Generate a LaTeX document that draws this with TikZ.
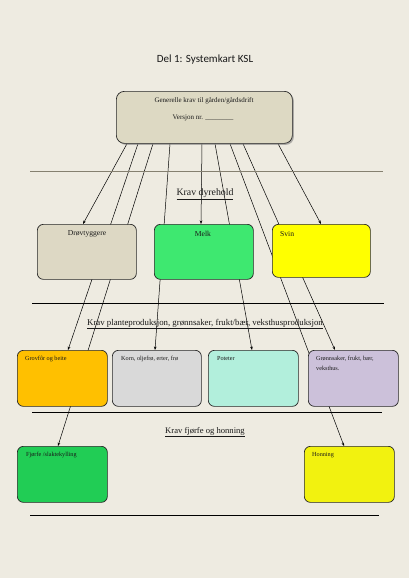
\documentclass[tikz,border=0pt]{standalone}
\usepackage{fontspec}
\setmainfont{Liberation Serif}
\newfontfamily\titlefont{Carlito}
\usetikzlibrary{calc,arrows.meta,shadows}
\pgfdeclarelayer{back}
\pgfdeclarelayer{paper}
\pgfsetlayers{paper,back,main}
\definecolor{bgc}{HTML}{EEEBE1}
\definecolor{topfill}{HTML}{DDD9C3}
\definecolor{drovfill}{HTML}{DDD8C4}
\definecolor{melkfill}{HTML}{3EE870}
\definecolor{svinfill}{HTML}{FFFF00}
\definecolor{grovfill}{HTML}{FFC000}
\definecolor{kornfill}{HTML}{D9D9D9}
\definecolor{potfill}{HTML}{B2EFDC}
\definecolor{gronnfill}{HTML}{CCC1DA}
\definecolor{fjorfill}{HTML}{21CD55}
\definecolor{honfill}{HTML}{F2F20F}
\definecolor{seponegray}{HTML}{858070}
\begin{document}
\begin{tikzpicture}[x=1pt,y=-1pt,
  box/.style={draw=black!85, line width=0.7pt, rounded corners=6pt, anchor=north west, inner sep=0pt, minimum width=#1},
  box/.default=90pt,
  lbl/.style={font=\fontsize{6.2}{7}\selectfont, text=black!90, inner sep=0pt, anchor=north west},
  mlbl/.style={font=\fontsize{7.6}{8.5}\selectfont, text=black!90, inner sep=0pt},
  head/.style={font=\fontsize{9.8}{11}\selectfont, text=black!90, inner sep=0pt},
  conn/.style={draw=black, line width=0.5pt, -{Stealth[length=3.5pt,width=2.6pt]}},
  sep/.style={line width=0.7pt, draw=black}]
\useasboundingbox (0,0) rectangle (409,578);
\begin{pgfonlayer}{paper}
\fill[bgc] (0,0) rectangle (409,578);
\end{pgfonlayer}

% title
\node[font=\titlefont\fontsize{11}{13}\selectfont, text=black!90, inner sep=0pt] (title) at (205,60) {Del 1: Systemkart KSL};

% top box
\node[box=176pt, minimum height=52pt, fill=topfill, rounded corners=8pt,
      drop shadow={shadow xshift=1.5pt, shadow yshift=-1.5pt, opacity=0.6}] (top) at (116,91) {};
\node[mlbl, font=\fontsize{7}{8}\selectfont] (gen) at (204,101) {Generelle krav til gården/gårdsdrift};
\node[mlbl, font=\fontsize{7}{8}\selectfont] (ver) at (203,118) {Versjon nr. \_\_\_\_\_\_\_\_};

% separators
\draw[line width=1pt, draw=seponegray] (30,171) -- (383,171);
\draw[sep] (32,303) -- (384,303);
\draw[sep] (32,412) -- (382,412);
\draw[sep] (30,515) -- (379,515);

% headings
\node[head] (h1) at (205,194) {\underline{Krav dyrehold}};
\node[head, font=\fontsize{8.8}{10}\selectfont] (h2) at (205,324) {\underline{Krav planteproduksjon, grønnsaker, frukt/bær, veksthusproduksjon}};
\node[head, font=\fontsize{8.6}{10}\selectfont] (h3) at (205,432) {\underline{Krav fjørfe og honning}};

% row 2
\node[box=99pt, minimum height=55pt, fill=drovfill] (drov) at (37,224) {};
\node[box=99pt, minimum height=55pt, fill=melkfill] (melk) at (154,224) {};
\node[box=98pt, minimum height=53pt, fill=svinfill] (svin) at (272,224) {};
\node[mlbl] (tdrov) at (87,234) {Drøvtyggere};
\node[mlbl] (tmelk) at (203,234) {Melk};
\node[mlbl, anchor=west] (tsvin) at (280,234) {Svin};

% row 3
\node[box, minimum height=56pt, fill=grovfill] (grov) at (17,350) {};
\node[box=89pt, minimum height=56pt, fill=kornfill] (korn) at (112,350) {};
\node[box, minimum height=56pt, fill=potfill] (pot) at (208,350) {};
\node[box, minimum height=56pt, fill=gronnfill] (gronn) at (308,350) {};
\node[lbl] (tgrov) at (25,356) {Grovfôr og beite};
\node[lbl] (tkorn) at (121,356) {Korn, oljefrø, erter, frø};
\node[lbl] (tpot) at (217,356) {Poteter};
\node[lbl, align=left, font=\fontsize{6.2}{10}\selectfont] (tgronn) at (316,356) {Grønnsaker, frukt, bær,\\veksthus.};

% row 4
\node[box, minimum height=56pt, fill=fjorfill] (fjor) at (17,446) {};
\node[box, minimum height=56pt, fill=honfill] (hon) at (304,446) {};
\node[lbl] (tfjor) at (26,452) {Fjørfe /slaktekylling};
\node[lbl] (thon) at (312,452) {Honning};

% connectors (behind boxes)
\begin{pgfonlayer}{back}
\draw[conn] ($(top.south west)+(11,0)$) -- ($(drov.north west)+(46,0)$);
\draw[conn] ($(top.south west)+(22,0)$) -- ($(grov.north west)+(51,0)$);
\draw[conn] ($(top.south west)+(37,0)$) -- ($(fjor.north west)+(41,0)$);
\draw[conn] ($(top.south west)+(54,0)$) -- ($(korn.north west)+(43,0)$);
\draw[conn] ($(top.south west)+(86,0)$) -- ($(melk.north west)+(47,0)$);
\draw[conn] ($(top.south west)+(99,0)$) -- ($(pot.north west)+(44,0)$);
\draw[conn] ($(top.south west)+(114,0)$) -- ($(hon.north west)+(40,0)$);
\draw[conn] ($(top.south west)+(127,0)$) -- ($(gronn.north west)+(27,0)$);
\draw[conn] ($(top.south west)+(162,0)$) -- ($(svin.north west)+(49,0)$);
\end{pgfonlayer}
\end{tikzpicture}
\end{document}
